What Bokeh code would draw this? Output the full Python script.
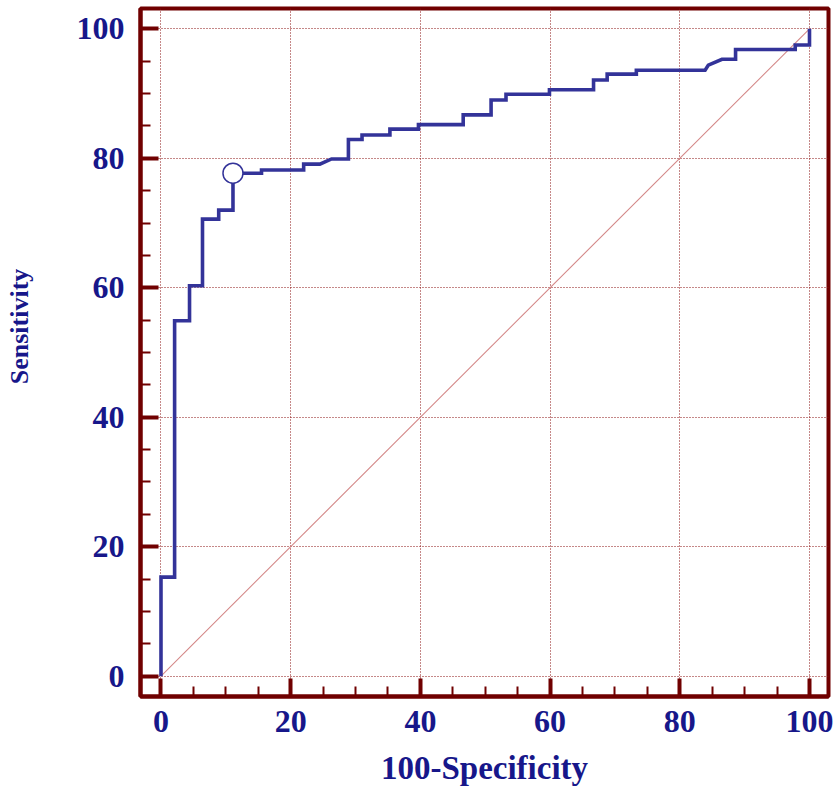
from bokeh.plotting import figure
from bokeh.models import Range1d, SingleIntervalTicker
from bokeh.embed import file_html
from bokeh.resources import INLINE

# ROC curve vertices (100-Specificity, Sensitivity)
fpr = [0, 0, 2.1, 2.1, 4.4, 4.4, 6.4, 6.4, 8.9, 8.9, 11.1, 11.1, 15.5, 15.5,
       22.0, 22.0, 24.5, 26.3, 28.9, 28.9, 31.0, 31.0, 35.3, 35.3, 39.7, 39.7,
       46.6, 46.6, 50.9, 50.9, 53.2, 53.2, 59.9, 59.9, 66.7, 66.7, 68.8, 68.8,
       73.3, 73.3, 83.9, 84.4, 86.5, 88.6, 88.6, 97.8, 97.8, 100, 100]
tpr = [0, 15.3, 15.3, 54.9, 54.9, 60.3, 60.3, 70.6, 70.6, 72.0, 72.0, 77.7, 77.7, 78.2,
       78.2, 79.1, 79.1, 79.9, 79.9, 82.9, 82.9, 83.6, 83.6, 84.5, 84.5, 85.2,
       85.2, 86.7, 86.7, 89.0, 89.0, 89.9, 89.9, 90.6, 90.6, 92.1, 92.1, 93.0,
       93.0, 93.6, 93.6, 94.4, 95.3, 95.3, 96.8, 96.8, 97.5, 97.5, 100]

# optimal criterion point
cut_x = [11.1]
cut_y = [77.7]

# reference diagonal
diag_x = [0, 100]
diag_y = [0, 100]

x_title = "100-Specificity"
y_title = "Sensitivity"

MAROON = "#700000"
NAVY = "#17178a"
BLUE = "#333399"
FONT = "Liberation Serif"

p = figure(width=834, height=789,
           x_range=Range1d(-3.16, 102.93), y_range=Range1d(-3.14, 103.14),
           output_backend="svg", toolbar_location=None,
           min_border_left=140, min_border_right=6,
           min_border_top=8, min_border_bottom=93)

p.background_fill_color = "white"
p.border_fill_color = "white"
p.outline_line_color = MAROON
p.outline_line_width = 4
p.outline_line_alpha = 1.0

for ax in (p.xaxis[0], p.yaxis[0]):
    ax.ticker = SingleIntervalTicker(interval=20, num_minor_ticks=4)
    ax.axis_line_color = MAROON
    ax.axis_line_width = 4
    ax.major_tick_line_color = MAROON
    ax.major_tick_line_width = 4
    ax.minor_tick_line_color = MAROON
    ax.minor_tick_line_width = 2
    ax.major_tick_in = 18
    ax.major_tick_out = 0
    ax.minor_tick_in = 10
    ax.minor_tick_out = 0
    ax.major_label_text_font = FONT
    ax.major_label_text_font_style = "bold"
    ax.major_label_text_font_size = "32px"
    ax.major_label_text_color = NAVY
    ax.axis_label_text_font = FONT
    ax.axis_label_text_font_style = "bold"
    ax.axis_label_text_color = NAVY

p.xaxis[0].major_label_standoff = 14
p.yaxis[0].major_label_standoff = 16

# axis titles (leading no-break spaces nudge the rotated title upward)
p.xaxis[0].axis_label = x_title
p.xaxis[0].axis_label_text_font_size = "33px"
p.xaxis[0].axis_label_standoff = 15
p.yaxis[0].axis_label = "\u00a0" * 8 + y_title
p.yaxis[0].axis_label_text_font_size = "26px"
p.yaxis[0].axis_label_standoff = 40

for g in (p.xgrid[0], p.ygrid[0]):
    g.ticker = SingleIntervalTicker(interval=20)
    g.grid_line_color = "#8b1010"
    g.grid_line_dash = "1 2"
    g.grid_line_width = 1

p.line(diag_x, diag_y, line_color="#d48888", line_width=1.1)
p.line(fpr, tpr, line_color=BLUE, line_width=3.6, line_join="miter")
p.scatter(cut_x, cut_y, size=20, fill_color="white", line_color=BLUE, line_width=1.5)

open("out.html", "w").write(file_html(p, INLINE))
